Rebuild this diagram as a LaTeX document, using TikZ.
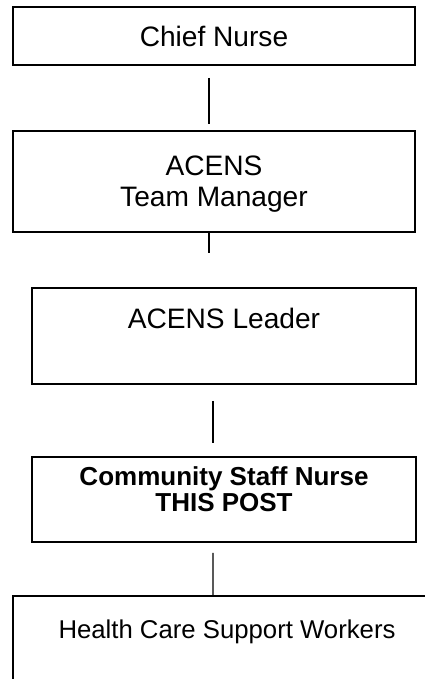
\documentclass[tikz,border=0pt]{standalone}
\usepackage{fontspec}
\setmainfont{Liberation Sans}

\tikzset{
  post/.style={draw, line width=1.2pt, align=center, inner sep=0pt, font=\fontsize{20}{22}\selectfont},
  tie/.style={line width=1pt}
}

\begin{document}
\begin{tikzpicture}
  \useasboundingbox (0,0) rectangle (10.625,-16.975);
  % Nodes
  \node[post, minimum width=10.05cm, minimum height=1.45cm](chief) at (5.35,-0.9){Chief Nurse};
  \node[post, minimum width=10.05cm, minimum height=2.525cm, text depth=0pt](manager) at (5.35,-4.5375){ACENS\\Team Manager};
  \node[post, minimum width=9.6cm, minimum height=2.4cm, text depth=0.9cm](leader) at (5.6,-8.4){ACENS Leader};
  \node[post, minimum width=9.6cm, minimum height=2.125cm, text depth=0.5cm, font=\fontsize{18.5}{18.5}\selectfont\bfseries](nurse) at (5.6,-12.4875){Community Staff Nurse\\THIS POST};
  \node[post, minimum width=10.7cm, minimum height=2.6cm, text depth=0.92cm, font=\fontsize{18.3}{20}\selectfont](hcsw) at (5.675,-16.2){Health Care Support Workers};
  \coordinate (drop) at ([xshift=-0.125cm, yshift=-0.5cm]manager.south);
  % Edges
  \draw[tie] ([xshift=-0.125cm, yshift=-0.3cm]chief.south) -- ([xshift=-0.125cm, yshift=0.15cm]manager.north);
  \draw[tie] ([xshift=-0.125cm]manager.south) -- (drop);
  \draw[tie] ([xshift=-0.275cm, yshift=-0.4cm]leader.south) -- ([xshift=-0.275cm, yshift=0.325cm]nurse.north);
  \draw[tie] ([xshift=-0.275cm, yshift=-0.25cm]nurse.south) -- ([xshift=-0.35cm]hcsw.north);
\end{tikzpicture}
\end{document}
